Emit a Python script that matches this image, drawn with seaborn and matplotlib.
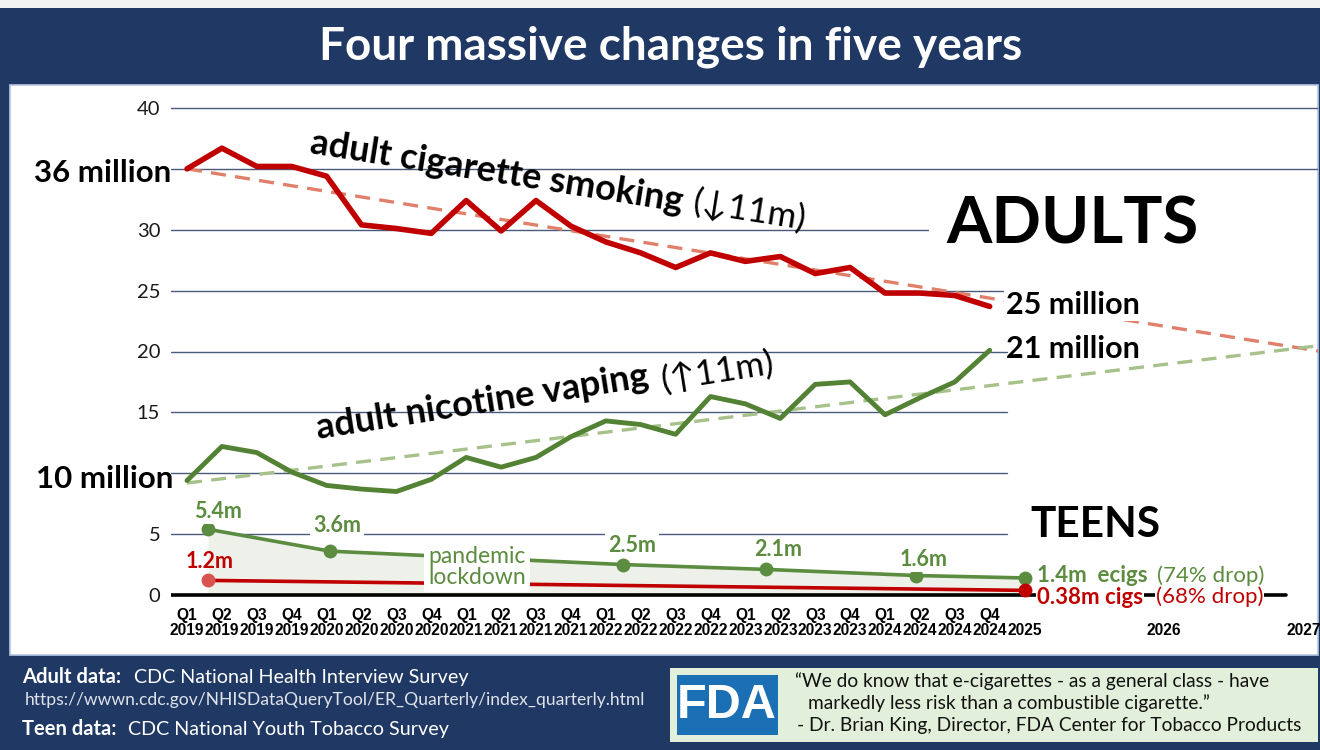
import matplotlib
matplotlib.use("Agg")
import matplotlib.pyplot as plt
import seaborn as sns
import pandas as pd
from matplotlib.patches import Rectangle

# ---------------- data ----------------
quarter_labels = [
    "Q1\n2019", "Q2\n2019", "Q3\n2019", "Q4\n2019",
    "Q1\n2020", "Q2\n2020", "Q3\n2020", "Q4\n2020",
    "Q1\n2021", "Q2\n2021", "Q3\n2021", "Q4\n2021",
    "Q1\n2022", "Q2\n2022", "Q3\n2022", "Q4\n2022",
    "Q1\n2023", "Q2\n2023", "Q3\n2023", "Q4\n2023",
    "Q1\n2024", "Q2\n2024", "Q3\n2024", "Q4\n2024",
]
year_tick_pos = [24, 28, 32]
year_tick_labels = ["\n2025", "\n2026", "\n2027"]

adult_smoking = [35.0, 36.7, 35.2, 35.2, 34.4, 30.4, 30.1, 29.7, 32.4, 29.9, 32.4, 30.3,
                 29.0, 28.1, 26.9, 28.1, 27.4, 27.8, 26.4, 26.9, 24.8, 24.8, 24.6, 23.7]
adult_vaping = [9.4, 12.2, 11.7, 10.1, 9.0, 8.7, 8.5, 9.5, 11.3, 10.5, 11.3, 13.0,
                14.3, 14.0, 13.2, 16.3, 15.7, 14.5, 17.3, 17.5, 14.8, 16.2, 17.5, 20.1]

trend_x = [0, 32.5]
smoking_trend = [35.0, 20.0]
vaping_trend = [9.2, 20.5]

teen_x = [0.6, 4.1, 12.5, 16.6, 20.9, 24.0]
teen_ecig = [5.4, 3.6, 2.5, 2.1, 1.6, 1.4]
teen_ecig_labels = ["5.4m", "3.6m", "2.5m", "2.1m", "1.6m"]
teen_cig_x = [0.6, 24.0]
teen_cig = [1.2, 0.38]

y_ticks = [0, 5, 15, 20, 25, 30, 40]
grid_levels = [5, 10, 15, 20, 25, 30, 35, 40]

# ---------------- style ----------------
sns.set_theme(style="white")
plt.rcParams["font.family"] = ["Lato", "DejaVu Sans"]
plt.rcParams["text.color"] = "black"

NAVY = "#203864"
RED = "#c00000"
GREEN = "#548235"
RED_DASH = "#e0806a"
GREEN_DASH = "#a6c28a"
TEEN_GREEN = "#5b8c3f"
GRID = "#4a5a7a"

W, H = 1320, 750
fig = plt.figure(figsize=(W / 100, H / 100), dpi=100, facecolor=NAVY)

def fx(px):
    return px / W

def fy(py):
    return 1 - py / H

# background panels
fig.patches.append(Rectangle((fx(10), fy(655)), fx(1308), 570 / H, transform=fig.transFigure,
                             facecolor="white", edgecolor="#b4c7e7", lw=1.2, zorder=-2))
fig.patches.append(Rectangle((0, fy(8)), 1, 8 / H, transform=fig.transFigure,
                             facecolor="#f2f2f2", edgecolor="none", zorder=-2))

# axes placement (pixel mapping)
x0_px, px_idx = 187, 34.9
y0_px, px_unit = 595, 12.175
xlim = (-0.45, 32.4)
ylim = (-0.5, 41.5)
left_px = x0_px + xlim[0] * px_idx
right_px = x0_px + xlim[1] * px_idx
bot_px = y0_px - ylim[0] * px_unit
top_px = y0_px - ylim[1] * px_unit
ax = fig.add_axes([fx(left_px), fy(bot_px), (right_px - left_px) / W, (bot_px - top_px) / H])
ax.set_zorder(2)
ax.set_facecolor("none")
ax.patch.set_alpha(0)
ax.set_xlim(*xlim)
ax.set_ylim(*ylim)
for s in ax.spines.values():
    s.set_visible(False)

# gridlines
for lv in grid_levels:
    xmax = 1.0 if lv >= 35 else (23.5 - xlim[0]) / (xlim[1] - xlim[0])
    ax.axhline(lv, xmin=0, xmax=xmax, color=GRID, lw=1.0, zorder=1)
ax.axhline(0, xmin=0, xmax=(31.5 - xlim[0]) / (xlim[1] - xlim[0]), color="black", lw=2.6, zorder=2)

# adult data
idx = list(range(len(adult_smoking)))
df = pd.DataFrame({"q": idx, "smoking": adult_smoking, "vaping": adult_vaping})
sns.lineplot(data=df, x="q", y="smoking", ax=ax, color=RED, lw=4.0, zorder=5)
sns.lineplot(data=df, x="q", y="vaping", ax=ax, color=GREEN, lw=3.5, zorder=5)
tr = pd.DataFrame({"x": trend_x, "s": smoking_trend, "v": vaping_trend})
sns.lineplot(data=tr, x="x", y="s", ax=ax, color=RED_DASH, lw=2.4, zorder=4,
             linestyle=(0, (4.5, 2.8)))
sns.lineplot(data=tr, x="x", y="v", ax=ax, color=GREEN_DASH, lw=2.4, zorder=4,
             linestyle=(0, (4.5, 2.8)))

# teen data
ax.fill_between(teen_x, teen_ecig, 0, color="#edf1ea", zorder=1.5, lw=0)
te = pd.DataFrame({"x": teen_x, "y": teen_ecig})
sns.lineplot(data=te, x="x", y="y", ax=ax, color=TEEN_GREEN, lw=2.6, marker="o",
             markersize=10, markeredgewidth=0, zorder=6)
tc = pd.DataFrame({"x": teen_cig_x, "y": teen_cig})
sns.lineplot(data=tc, x="x", y="y", ax=ax, color=RED, lw=2.6, zorder=5)
ax.plot(teen_cig_x[0], teen_cig[0], "o", color="#d9534f", ms=10, mec="none", zorder=6)
ax.plot(teen_cig_x[-1], teen_cig[-1], "o", color=RED, ms=10, mec="none", zorder=6, clip_on=False)

# ticks
ax.set_xticks(idx + year_tick_pos)
ax.set_xticklabels(quarter_labels + year_tick_labels, fontsize=11.2, fontweight="bold",
                   family=["Liberation Sans", "DejaVu Sans"], linespacing=1.0)
ax.tick_params(axis="x", length=0, pad=5, colors="black")
ax.set_yticks(y_ticks)
ax.set_yticklabels([str(v) for v in y_ticks], fontsize=14.5)
ax.tick_params(axis="y", length=0, pad=8, colors="#1a1a1a")
ax.set_xlabel("")
ax.set_ylabel("")

def px2d(x, y):
    return (x - x0_px) / px_idx, (y0_px - y) / px_unit

# annotations
bold = dict(fontweight="bold")
ax.text(*px2d(171, 173), "36 million", ha="right", va="center", fontsize=22.5, clip_on=False, **bold)
ax.text(*px2d(173, 479), "10 million", ha="right", va="center", fontsize=22.5, clip_on=False, **bold)
ax.text(*px2d(1006, 305), "25 million", ha="left", va="center", fontsize=22, zorder=7,
        bbox=dict(fc="white", ec="none", pad=1), **bold)
ax.text(*px2d(1006, 349), "21 million", ha="left", va="center", fontsize=22, zorder=7, **bold)
ax.text(*px2d(1072, 225), "ADULTS", ha="center", va="center", fontsize=47, zorder=7,
        bbox=dict(fc="white", ec="none", pad=12), **bold)
ax.text(*px2d(1095, 525), "TEENS", ha="center", va="center", fontsize=30.5, zorder=7,
        bbox=dict(fc="white", ec="none", pad=8), **bold)

ax.text(*px2d(497, 172), "adult cigarette smoking", ha="center", va="center", rotation=-9,
        rotation_mode="anchor", fontsize=26, zorder=7, **bold)
ax.text(*px2d(749, 211), "(\u219311m)", ha="center", va="center", rotation=-9,
        rotation_mode="anchor", fontsize=25, zorder=7)
ax.text(*px2d(482, 402), "adult nicotine vaping", ha="center", va="center", rotation=9,
        rotation_mode="anchor", fontsize=26, zorder=7, **bold)
ax.text(*px2d(717, 372), "(\u219111m)", ha="center", va="center", rotation=9,
        rotation_mode="anchor", fontsize=25, zorder=7)

teen_label_px = [(218, 511), (337, 526), (632, 545), (778, 549), (924, 559)]
for (lx, ly), lab in zip(teen_label_px, teen_ecig_labels):
    ax.text(*px2d(lx, ly), lab, ha="center", va="center", fontsize=15.5, color=TEEN_GREEN,
            zorder=7, bbox=dict(fc="white", ec="none", pad=2), **bold)
ax.text(*px2d(210, 562), "1.2m", ha="center", va="center", fontsize=15.5, color=RED, zorder=7, **bold)
ax.text(*px2d(477, 567), "pandemic\nlockdown", ha="center", va="center", fontsize=16.5,
        color=TEEN_GREEN, linespacing=0.95, zorder=7, bbox=dict(fc="white", ec="none", pad=3))
ax.text(*px2d(1037, 576), "1.4m  ecigs", ha="left", va="center", fontsize=16, color=TEEN_GREEN,
        zorder=7, clip_on=False, **bold)
ax.text(*px2d(1157, 576), "(74% drop)", ha="left", va="center", fontsize=16, color=TEEN_GREEN,
        zorder=7, clip_on=False)
ax.text(*px2d(1037, 597), "0.38m cigs", ha="left", va="center", fontsize=16, color=RED,
        zorder=7, clip_on=False, bbox=dict(fc="white", ec="none", pad=0.5), **bold)
ax.text(*px2d(1156, 597), "(68% drop)", ha="left", va="center", fontsize=16, color=RED,
        zorder=7, clip_on=False, bbox=dict(fc="white", ec="none", pad=0.5))

# title
fig.text(0.508, fy(47), "Four massive changes in five years", ha="center", va="center",
         color="white", fontsize=33, fontweight="bold")

# footer left
fig.text(fx(22), fy(677), "Adult data:", color="white", fontsize=14.5, fontweight="bold", va="center")
fig.text(fx(134), fy(677), "CDC National Health Interview Survey", color="white", fontsize=14.2, va="center")
fig.text(fx(25), fy(700), "https://wwwn.cdc.gov/NHISDataQueryTool/ER_Quarterly/index_quarterly.html",
         color="#dfe3ea", fontsize=12.6, va="center")
fig.text(fx(22), fy(729), "Teen data:", color="white", fontsize=14.5, fontweight="bold", va="center")
fig.text(fx(128), fy(729), "CDC National Youth Tobacco Survey", color="white", fontsize=14.2, va="center")

# FDA box
fig.patches.append(Rectangle((fx(670), fy(742)), fx(648), 74 / H, transform=fig.transFigure,
                             facecolor="#e2efda", edgecolor="none", zorder=1))
fig.patches.append(Rectangle((fx(677), fy(735)), fx(101), 60 / H, transform=fig.transFigure,
                             facecolor="#1b6fb5", edgecolor="none", zorder=2))
fig.text(fx(727), fy(706), "FDA", color="white", fontsize=35, fontweight="bold", ha="center",
         va="center", family=["Liberation Sans", "DejaVu Sans"], zorder=3)
fig.text(fx(795), fy(681), "\u201cWe do know that e-cigarettes - as a general class - have",
         color="#111111", fontsize=13.8, va="center", zorder=3)
fig.text(fx(808), fy(703), "markedly less risk than a combustible cigarette.\u201d",
         color="#111111", fontsize=13.8, va="center", zorder=3)
fig.text(fx(797), fy(725), "- Dr. Brian King, Director, FDA Center for Tobacco Products",
         color="#111111", fontsize=13.8, va="center", zorder=3)

fig.savefig("out.png", dpi=100, facecolor=NAVY)
